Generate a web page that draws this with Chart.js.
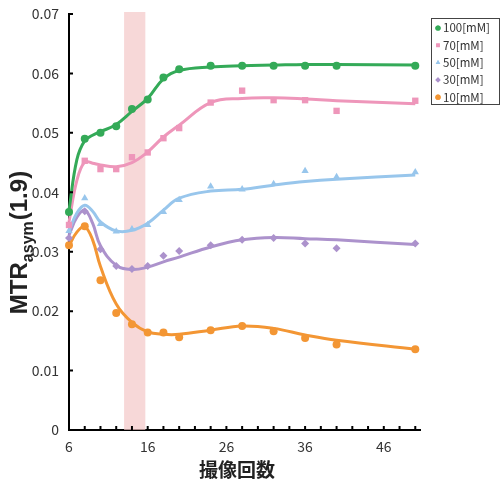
<!DOCTYPE html>
<html>
<head>
<meta charset="utf-8">
<script src="https://cdn.jsdelivr.net/npm/chart.js@4"></script>
<style>
  html, body { margin: 0; padding: 0; background: #fff; }
  #wrap { width: 502px; height: 484px; position: relative; }
</style>
</head>
<body>
<div id="wrap"><canvas id="chart"></canvas></div>
<script>
// 撮像回数 (x) for the measured points
const shots = [6, 8, 10, 12, 14, 16, 18, 20, 24, 28, 32, 36, 40, 50];
const series_names = ['100[mM]', '70[mM]', '50[mM]', '30[mM]', '10[mM]'];

// measured MTRasym(1.9)
const pts_100 = [0.0367, 0.0490, 0.0500, 0.0511, 0.0540, 0.0556, 0.0593, 0.0607, 0.0613, 0.0613, 0.0613, 0.0613, 0.0613, 0.0613];
const pts_70  = [0.0345, 0.0453, 0.0439, 0.0439, 0.0459, 0.0467, 0.0491, 0.0508, 0.0551, 0.0571, 0.0555, 0.0555, 0.0537, 0.0554];
const pts_50  = [0.0335, 0.0390, 0.0347, 0.0334, 0.0338, 0.0345, 0.0367, 0.0387, 0.0410, 0.0405, 0.0414, 0.0436, 0.0426, 0.0434];
const pts_30  = [0.0323, 0.0368, 0.0304, 0.0276, 0.0271, 0.0276, 0.0293, 0.0301, 0.0311, 0.0320, 0.0323, 0.0314, 0.0306, 0.0314];
const pts_10  = [0.0311, 0.0343, 0.0252, 0.0197, 0.0178, 0.0164, 0.0164, 0.0156, 0.0168, 0.0175, 0.0166, 0.0155, 0.0144, 0.0136];

// fitted curves
const fit_x   = [6, 7, 8, 9, 10, 12, 14, 16, 18, 20, 24, 28, 32, 36, 40, 50];
const fit_100 = [0.0370, 0.0455, 0.0487, 0.0496, 0.0502, 0.0514, 0.0536, 0.0558, 0.0591, 0.0605, 0.0611, 0.0613, 0.0614, 0.0615, 0.0615, 0.0614];
const fit_70  = [0.0350, 0.0420, 0.0451, 0.0449, 0.0446, 0.0443, 0.0450, 0.0468, 0.0493, 0.0513, 0.0551, 0.0558, 0.0559, 0.0557, 0.0554, 0.0549];
const fit_50  = [0.0335, 0.0365, 0.0378, 0.0368, 0.0350, 0.0335, 0.0336, 0.0348, 0.0370, 0.0390, 0.0402, 0.0405, 0.0412, 0.0418, 0.0422, 0.0429];
const fit_30  = [0.0328, 0.0358, 0.0370, 0.0348, 0.0310, 0.0277, 0.0270, 0.0274, 0.0283, 0.0291, 0.0308, 0.0320, 0.0324, 0.0322, 0.0320, 0.0312];
const fit_10  = [0.0310, 0.0333, 0.0342, 0.0320, 0.0275, 0.0212, 0.0181, 0.0165, 0.0161, 0.0161, 0.0168, 0.0175, 0.0171, 0.0160, 0.0151, 0.0136];

const y_ticks = [0, 0.01, 0.02, 0.03, 0.04, 0.05, 0.06, 0.07];
const x_ticks = [6, 8, 10, 12, 14, 16, 18, 20, 22, 24, 26, 28, 30, 32, 34, 36, 38, 40, 42, 44, 46, 48, 50];
const x_labels = [6, 16, 26, 36, 46];
const band = [13, 15.7];   // highlighted range of 撮像回数

const colors = ['rgb(52,170,88)', 'rgb(238,150,186)', 'rgb(152,198,236)', 'rgb(172,146,204)', 'rgb(243,150,52)'];
const styles = ['circle', 'rect', 'triangle', 'rectRot', 'circle'];
const radii = [4, 4.5, 4.2, 4, 4];

const pts_all = [pts_100, pts_70, pts_50, pts_30, pts_10];
const fit_all = [fit_100, fit_70, fit_50, fit_30, fit_10];

const FONT = '"Noto Sans CJK JP", "Liberation Sans", sans-serif';

let datasets = [];
for (let i = 0; i < series_names.length; i++) {
    datasets.push({
        label: series_names[i],
        data: shots.map((x, k) => ({x: x, y: pts_all[i][k]})),
        showLine: false,
        pointStyle: styles[i],
        pointRadius: radii[i],
        backgroundColor: colors[i],
        borderColor: colors[i],
        borderWidth: 0,
        order: 0,
        clip: false
    });
    datasets.push({
        label: series_names[i] + '_fit',
        data: fit_x.map((x, k) => ({x: x, y: fit_all[i][k]})),
        showLine: true,
        borderColor: colors[i],
        borderWidth: 3,
        pointRadius: 0,
        tension: 0.4,
        fill: false,
        order: 1,
        clip: false
    });
}

// pink band + inside ticks + titles + boxed legend
const decorations = {
    id: 'decorations',
    beforeDatasetsDraw(chart) {
        const ctx = chart.ctx;
        const xs = chart.scales.x, area = chart.chartArea;
        ctx.save();
        ctx.fillStyle = 'rgba(244,200,200,0.7)';
        let x0 = xs.getPixelForValue(band[0]), x1 = xs.getPixelForValue(band[1]);
        ctx.fillRect(x0, area.top - 2, x1 - x0, area.bottom - area.top + 2);
        ctx.restore();
    },
    afterDraw(chart) {
        const ctx = chart.ctx;
        const xs = chart.scales.x, ys = chart.scales.y, area = chart.chartArea;
        ctx.save();
        ctx.strokeStyle = '#000';
        ctx.lineWidth = 2;
        ctx.beginPath();
        y_ticks.forEach(v => {
            let y = ys.getPixelForValue(v);
            ctx.moveTo(area.left, y);
            ctx.lineTo(area.left + 4, y);
        });
        x_ticks.forEach(v => {
            let x = xs.getPixelForValue(v);
            ctx.moveTo(x, area.bottom);
            ctx.lineTo(x, area.bottom - 4);
        });
        ctx.stroke();

        // x title
        ctx.fillStyle = '#222';
        ctx.font = 'bold 19px ' + FONT;
        ctx.textAlign = 'center';
        ctx.textBaseline = 'alphabetic';
        ctx.fillText('撮像回数', 237, 477);

        // y title with subscript
        ctx.translate(27, 243);
        ctx.rotate(-Math.PI / 2);
        let big = 'bold 24px "Liberation Sans", sans-serif';
        let small = 'bold 16px "Liberation Sans", sans-serif';
        ctx.font = big;
        let w1 = ctx.measureText('MTR').width;
        let w3 = ctx.measureText('(1.9)').width;
        ctx.font = small;
        let w2 = ctx.measureText('asym').width;
        let sx = -(w1 + w2 + w3) / 2;
        ctx.textAlign = 'left';
        ctx.font = big;
        ctx.fillText('MTR', sx, 0);
        ctx.font = small;
        ctx.fillText('asym', sx + w1, 6);
        ctx.font = big;
        ctx.fillText('(1.9)', sx + w1 + w2 + 1, 0);
        ctx.setTransform(1, 0, 0, 1, 0, 0);

        // legend box
        ctx.fillStyle = '#fff';
        ctx.fillRect(431, 18, 69, 86);
        ctx.strokeStyle = '#444';
        ctx.lineWidth = 1;
        ctx.strokeRect(431.5, 18.5, 68, 86);
        ctx.font = '11.5px ' + FONT;
        ctx.textBaseline = 'middle';
        for (let i = 0; i < series_names.length; i++) {
            let y = 28 + i * 17.3;
            ctx.fillStyle = colors[i];
            Chart.helpers.drawPoint(ctx, {pointStyle: styles[i], radius: 2.6, rotation: 0, borderWidth: 0}, 438, y);
            ctx.fill();
            ctx.fillStyle = '#333';
            ctx.fillText(series_names[i], 443, y);
        }
        ctx.restore();
    }
};

const config = {
    type: 'scatter',
    data: {datasets: datasets},
    options: {
        responsive: false,
        animation: false,
        layout: {padding: {top: 14, right: 82, left: 0, bottom: 0}},
        plugins: {legend: {display: false}, tooltip: {enabled: false}},
        scales: {
            x: {
                type: 'linear',
                min: 6,
                max: 50.6,
                grid: {display: false, drawTicks: false},
                border: {color: '#000', width: 2},
                afterBuildTicks: s => { s.ticks = x_ticks.map(v => ({value: v})); },
                afterFit: s => { s.height = 54; s.paddingLeft = 0; s.paddingRight = 0; },
                ticks: {
                    autoSkip: false,
                    maxRotation: 0,
                    padding: 8,
                    color: '#333',
                    font: {size: 14, family: FONT},
                    callback: v => x_labels.includes(v) ? String(v) : ''
                }
            },
            y: {
                min: 0,
                max: 0.07,
                grid: {display: false, drawTicks: false},
                border: {color: '#000', width: 2},
                afterBuildTicks: s => { s.ticks = y_ticks.map(v => ({value: v})); },
                afterFit: s => { s.width = 69; s.paddingTop = 0; s.paddingBottom = 0; },
                ticks: {
                    padding: 10,
                    color: '#333',
                    font: {size: 14, family: FONT},
                    callback: v => v === 0 ? '0' : v.toFixed(2)
                }
            }
        }
    },
    plugins: [decorations]
};

const cv = document.getElementById('chart');
cv.width = 502;
cv.height = 484;
new Chart(cv.getContext('2d'), config);
</script>
</body>
</html>
